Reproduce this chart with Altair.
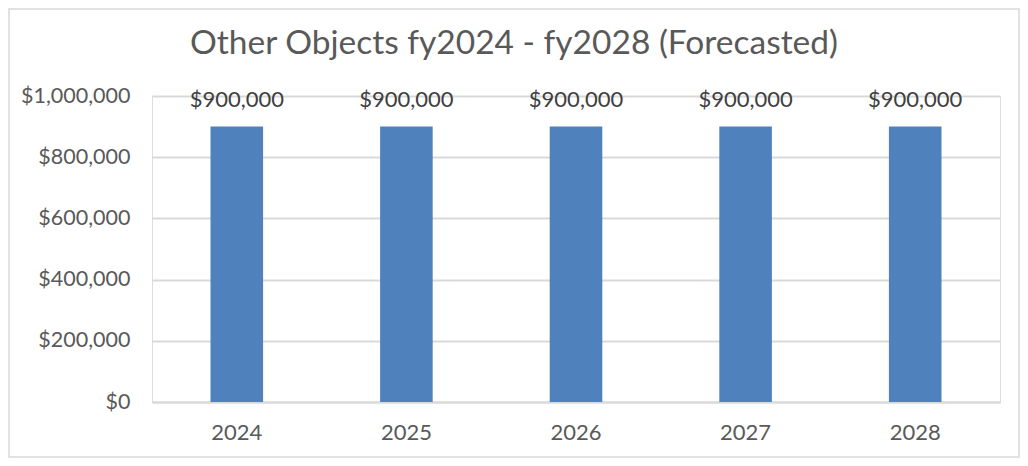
import altair as alt
import pandas as pd

years = ["2024", "2025", "2026", "2027", "2028"]
values = [900000, 900000, 900000, 900000, 900000]
y_ticks = [0, 200000, 400000, 600000, 800000, 1000000]
title_text = "Other Objects fy2024 - fy2028 (Forecasted)"

df = pd.DataFrame({"year": years, "value": values})

FONT = "Lato"
GRAY = "#595959"
W, H = 848, 306

base = alt.Chart(df)

bars = base.mark_bar(color="#4F81BD").encode(
    x=alt.X("year:N", sort=years, title=None,
            scale=alt.Scale(paddingInner=0.69, paddingOuter=0.345),
            axis=alt.Axis(labelAngle=0, labelFontSize=22, labelColor=GRAY, labelFont=FONT,
                          ticks=False, labelPadding=20, domainColor="#D9D9D9", domainWidth=2)),
    y=alt.Y("value:Q", title=None,
            scale=alt.Scale(domain=[0, 1000000], nice=False),
            axis=alt.Axis(values=y_ticks, format="$,.0f", labelFontSize=21.5, labelColor=GRAY,
                          labelFont=FONT, ticks=False, domain=False, labelPadding=22,
                          gridColor="#D9D9D9", gridWidth=2)),
)

labels = base.mark_text(dy=-15, fontSize=22, font=FONT, color="#404040", baseline="bottom").encode(
    x=alt.X("year:N", sort=years),
    y="value:Q",
    text=alt.Text("value:Q", format="$,.0f"),
)

title = alt.Chart(pd.DataFrame({"t": [title_text]})).mark_text(
    fontSize=33.5, font=FONT, color=GRAY, align="center", baseline="alphabetic"
).encode(
    x=alt.value(362), y=alt.value(-42), text="t:N"
)

border = alt.Chart(pd.DataFrame({"a": [0]})).mark_rect(
    fill=None, stroke="#D9D9D9", strokeWidth=1.5
).encode(
    x=alt.value(-143), x2=alt.value(W + 19), y=alt.value(-87), y2=alt.value(H + 55)
)

chart = alt.layer(bars, labels, title, border).properties(
    width=W, height=H,
    autosize=alt.AutoSizeParams(type="none"),
    padding={"left": 144, "top": 88, "right": 20, "bottom": 56},
).configure_view(stroke=None).configure(background="white")

chart.save("out.html", embed_options={"renderer": "svg", "actions": False})
